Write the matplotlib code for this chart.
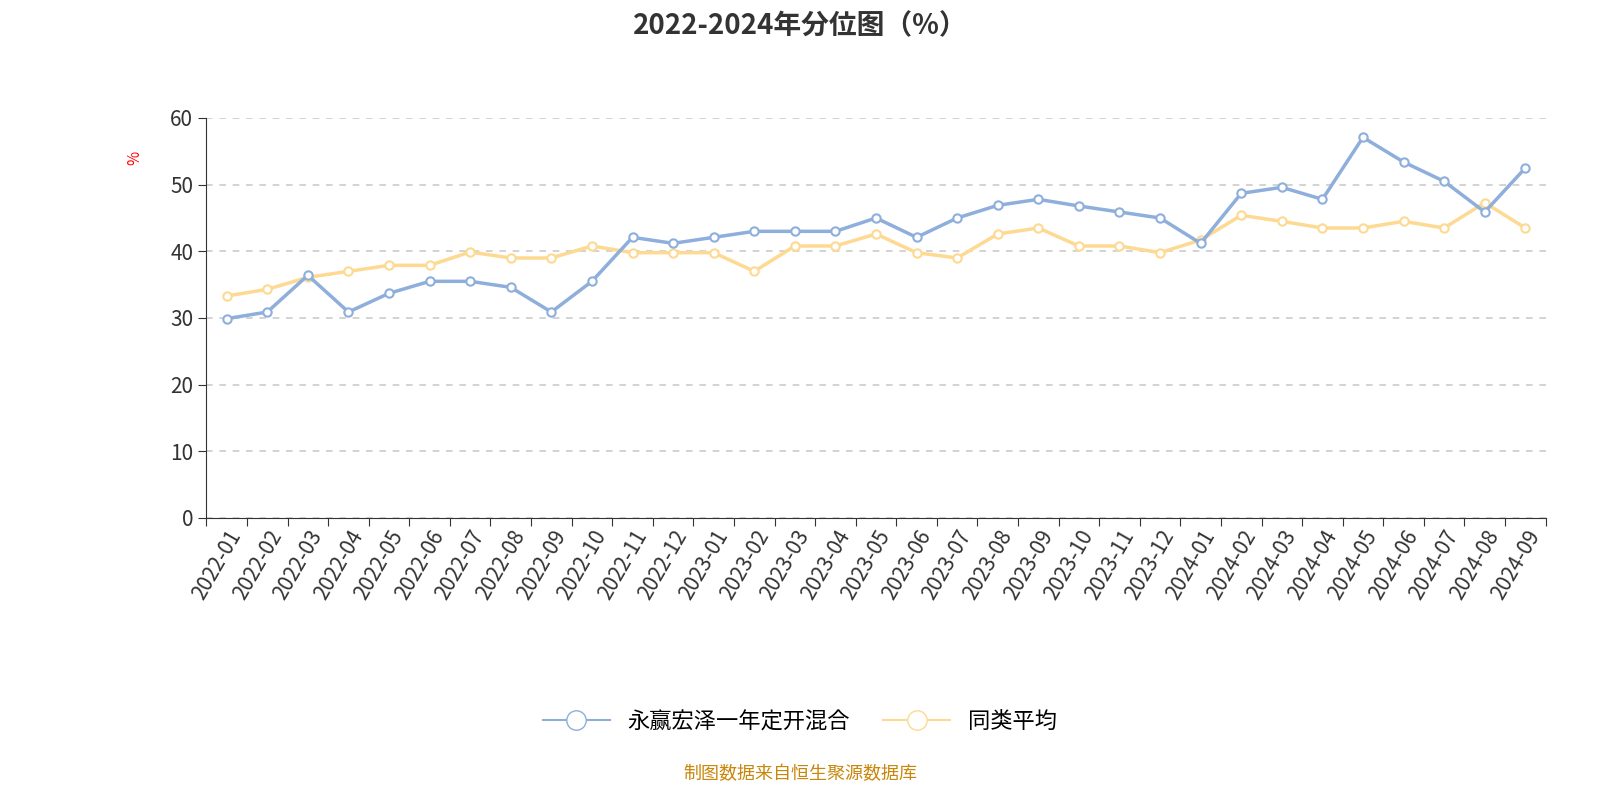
import matplotlib.pyplot as plt
from matplotlib.lines import Line2D
from matplotlib import font_manager

# pick whichever CJK family is actually registered
names = {f.name for f in font_manager.fontManager.ttflist}
cjk = [n for n in ['Noto Sans CJK SC', 'Noto Sans CJK JP', 'Noto Sans CJK TC', 'Noto Sans CJK KR',
                   'Noto Sans SC', 'Noto Sans JP'] if n in names]
plt.rcParams['font.family'] = 'sans-serif'
plt.rcParams['font.sans-serif'] = cjk + ['DejaVu Sans']

months = ['2022-01', '2022-02', '2022-03', '2022-04', '2022-05', '2022-06', '2022-07', '2022-08',
          '2022-09', '2022-10', '2022-11', '2022-12', '2023-01', '2023-02', '2023-03', '2023-04',
          '2023-05', '2023-06', '2023-07', '2023-08', '2023-09', '2023-10', '2023-11', '2023-12',
          '2024-01', '2024-02', '2024-03', '2024-04', '2024-05', '2024-06', '2024-07', '2024-08',
          '2024-09']
fund = [29.9, 30.9, 36.4, 30.9, 33.7, 35.5, 35.5, 34.6, 30.9, 35.5, 42.1, 41.2,
        42.1, 43.0, 43.0, 43.0, 45.0, 42.1, 45.0, 46.9, 47.8, 46.8, 45.9, 45.0,
        41.2, 48.7, 49.6, 47.8, 57.1, 53.4, 50.5, 45.9, 52.5]
peer = [33.3, 34.3, 36.1, 37.0, 37.9, 37.9, 39.9, 39.0, 39.0, 40.8, 39.8, 39.8,
        39.8, 37.0, 40.8, 40.8, 42.6, 39.8, 39.0, 42.6, 43.5, 40.8, 40.8, 39.8,
        41.7, 45.4, 44.5, 43.5, 43.5, 44.5, 43.5, 47.3, 43.5]

blue = '#8eaedb'
yellow = '#fdd992'

fig = plt.figure(figsize=(16, 8), dpi=100)
ax = fig.add_axes([0.129, 0.3525, 0.837, 0.5])
x = range(len(months))
ax.plot(x, peer, color=yellow, lw=2.5, marker='o', ms=6, mfc='white', mec=yellow, mew=1.5, zorder=3)
ax.plot(x, fund, color=blue, lw=2.5, marker='o', ms=6, mfc='white', mec=blue, mew=1.5, zorder=4)

ax.set_xlim(-0.5, len(months) - 0.5)
ax.set_ylim(0, 60)
ax.set_yticks(range(0, 61, 10))
ax.set_xticks([i - 0.5 for i in range(len(months) + 1)], minor=False)
ax.set_xticklabels([])
ax.set_xticks(list(x), minor=True)
ax.set_xticklabels(months, minor=True, rotation=60, ha='right', rotation_mode='anchor', fontsize=15, color='#333')
ax.tick_params(axis='x', which='minor', length=0, pad=6)
ax.tick_params(axis='x', which='major', length=6, color='#333')
ax.tick_params(axis='y', labelsize=15, colors='#333', length=6)
ax.grid(axis='y', ls=(0, (4, 4)), color='#cccccc', lw=1.2)
for s in ['top', 'right']:
    ax.spines[s].set_visible(False)
ax.spines['left'].set_color('#333')
ax.spines['bottom'].set_color('#333')
ax.set_ylabel('%', color='red', fontsize=11)
ax.yaxis.set_label_coords(-0.047, 0.9)

fig.suptitle('2022-2024年分位图（%）', fontsize=20, fontweight='bold', color='#333', y=0.985)

handles = [Line2D([], [], color=blue, lw=1.5, marker='o', ms=14, mfc='white', mec=blue),
           Line2D([], [], color=yellow, lw=1.5, marker='o', ms=14, mfc='white', mec=yellow)]
fig.legend(handles, ['永赢宏泽一年定开混合', '同类平均'], loc='center', bbox_to_anchor=(0.5, 0.098),
           ncol=2, frameon=False, fontsize=16, handlelength=3, columnspacing=1.5)
fig.text(0.5, 0.033, '制图数据来自恒生聚源数据库', ha='center', va='center', fontsize=13, color='#c8860a')

fig.savefig('out.png')
